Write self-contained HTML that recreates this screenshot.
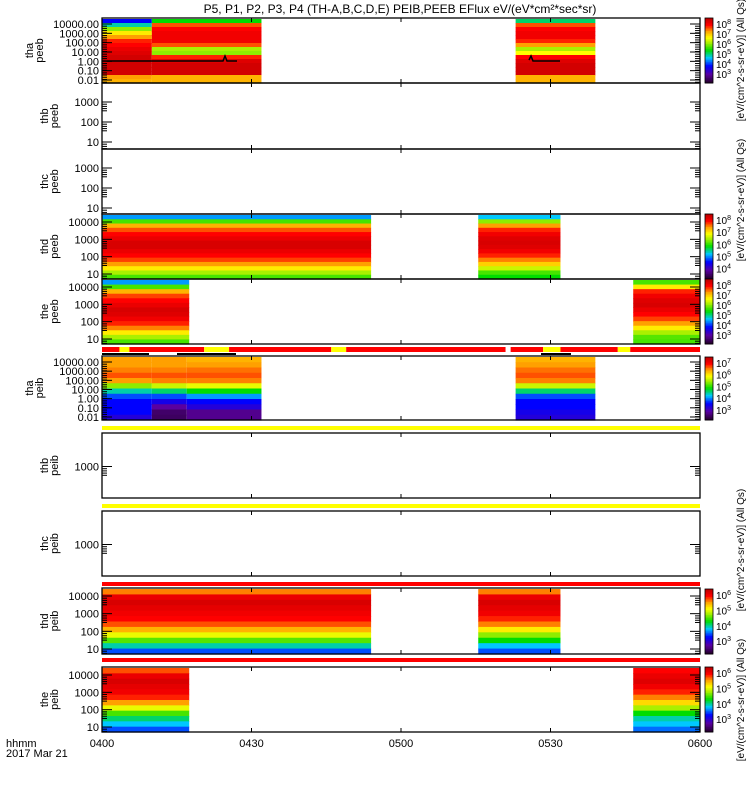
<!DOCTYPE html>
<html><head><meta charset="utf-8"><style>
html,body{margin:0;padding:0;background:#fff;}
svg{display:block;font-family:"Liberation Sans",sans-serif;}
</style></head><body>
<svg id="chart" width="750" height="800" viewBox="0 0 750 800" xmlns="http://www.w3.org/2000/svg">
<text x="400" y="13" font-size="12" text-anchor="middle">P5, P1, P2, P3, P4 (TH-A,B,C,D,E) PEIB,PEEB EFlux eV/(eV*cm²*sec*sr)</text>
<g id="layer"></g>
<text x="6" y="747" font-size="11">hhmm</text>
<text x="6" y="757" font-size="11">2017 Mar 21</text>
</svg>
<script>
// time axis: minutes after 0400
const xTickLabels = ["0400","0430","0500","0530","0600"];
const xTickMinutes = [0,30,60,90,120];
// panels: name, species label, y-tick labels
const panelNames = ["tha-peeb","thb-peeb","thc-peeb","thd-peeb","the-peeb","tha-peib","thb-peib","thc-peib","thd-peib","the-peib"];
const panelLabels = [["tha","peeb"],["thb","peeb"],["thc","peeb"],["thd","peeb"],["the","peeb"],["tha","peib"],["thb","peib"],["thc","peib"],["thd","peib"],["the","peib"]];
const yTickSets = [
 ["10000.00","1000.00","100.00","10.00","1.00","0.10","0.01"],
 ["1000","100","10"],["1000","100","10"],
 ["10000","1000","100","10"],["10000","1000","100","10"],
 ["10000.00","1000.00","100.00","10.00","1.00","0.10","0.01"],
 ["1000"],["1000"],
 ["10000","1000","100","10"],["10000","1000","100","10"]];
// spectrogram segments: panel index, start minute, end minute, normalized log-flux levels top->bottom
const segPanel = [0,0,0,3,3,4,4,5,5,5,5,8,8,9,9];
const segStart = [0,10,83,0,75.5,0,106.6,0,10,17,83,0,75.5,0,106.6];
const segEnd   = [10,32,99,54,92,17.5,120,10,17,32,99,54,92,17.5,120];
const segLevels = [
 [0.25,0.42,0.6,0.72,0.8,0.88,0.9,0.93,0.95,0.97,0.97,0.97,0.97,0.97,0.8,0.78],
 [0.5,0.85,0.9,0.92,0.92,0.92,0.85,0.62,0.6,0.88,0.95,0.97,0.97,0.97,0.78,0.78],
 [0.45,0.85,0.9,0.92,0.92,0.88,0.8,0.62,0.7,0.9,0.95,0.97,0.97,0.97,0.78,0.78],
 [0.35,0.55,0.78,0.85,0.9,0.93,0.96,0.96,0.93,0.9,0.86,0.8,0.72,0.62,0.55],
 [0.38,0.6,0.8,0.88,0.92,0.95,0.96,0.95,0.92,0.88,0.82,0.75,0.65,0.55,0.5],
 [0.35,0.55,0.78,0.86,0.9,0.93,0.96,0.95,0.92,0.88,0.82,0.72,0.62,0.55],
 [0.55,0.72,0.88,0.92,0.95,0.96,0.93,0.9,0.86,0.8,0.72,0.62,0.56,0.55],
 [0.8,0.8,0.82,0.85,0.8,0.6,0.42,0.3,0.25,0.25,0.25,0.2],
 [0.8,0.8,0.82,0.85,0.82,0.65,0.45,0.3,0.22,0.12,0.06,0.05],
 [0.78,0.8,0.83,0.85,0.82,0.68,0.5,0.35,0.25,0.2,0.1,0.1],
 [0.78,0.8,0.83,0.85,0.82,0.65,0.45,0.3,0.25,0.25,0.22,0.2],
 [0.82,0.93,0.96,0.94,0.92,0.9,0.85,0.78,0.68,0.56,0.42,0.3],
 [0.82,0.93,0.96,0.94,0.92,0.88,0.82,0.72,0.6,0.5,0.38,0.3],
 [0.85,0.93,0.96,0.94,0.92,0.88,0.8,0.68,0.55,0.45,0.38,0.3],
 [0.9,0.93,0.95,0.92,0.88,0.82,0.74,0.62,0.5,0.42,0.38,0.32]];
// status bars: segments start/end minutes, color
const barStart = [0,3.5,5.5,20.5,25.5,46,49,81,82,88.5,92,103.5,106];
const barEnd   = [3.5,5.5,20.5,25.5,46,49,81,82,88.5,92,103.5,106,120];
const barColor = ["r","y","r","y","r","y","r","w","r","y","r","y","r"];

const NS="http://www.w3.org/2000/svg";
const L=document.getElementById('layer');
const X0=102,X1=700;
function xs(m){return X0+(X1-X0)*m/120;}
const pTop=[18,83,149,214,279,356,433,511,588,667];
const pBot=[83,149,214,279,344,420,498,576,654,732];
function el(t,a,p){const e=document.createElementNS(NS,t);for(const k in a)e.setAttribute(k,a[k]);(p||L).appendChild(e);return e;}
const stops=[[0,[40,0,50]],[0.12,[90,0,160]],[0.25,[0,0,255]],[0.38,[0,200,255]],[0.5,[0,220,0]],[0.62,[170,240,0]],[0.7,[255,255,0]],[0.8,[255,160,0]],[0.9,[255,0,0]],[1,[190,0,0]]];
function cmap(v){v=Math.max(0,Math.min(1,v));for(let i=1;i<stops.length;i++){if(v<=stops[i][0]){const a=stops[i-1],b=stops[i],f=(v-a[0])/(b[0]-a[0]);const c=a[1].map((q,j)=>Math.round(q+(b[1][j]-q)*f));return `rgb(${c})`;}}return 'rgb(190,0,0)';}

for(let s=0;s<segPanel.length;s++){
  const p=segPanel[s],lv=segLevels[s],t=pTop[p]+1,h=(pBot[p]-t)/lv.length;
  const g=el('g',{});
  
  
  lv.forEach((v,i)=>{const r=el('rect',{x:xs(segStart[s]),y:t+i*h,width:xs(segEnd[s])-xs(segStart[s]),height:h+0.6,fill:cmap(v)},g);
    
    });
}
el('polyline',{points:"107,61 223,61 225,56 227,61 237,61",stroke:"#000","stroke-width":1.5,fill:"none"});
el('polyline',{points:"529,60 531,56 533,61 560,61",stroke:"#000","stroke-width":1.5,fill:"none"});

for(let p=0;p<10;p++){
  const g=el('g',{});
  
  
  el('rect',{x:X0,y:pTop[p],width:X1-X0,height:pBot[p]-pTop[p],fill:"none",stroke:"#000","stroke-width":1.3},g);
  xTickMinutes.forEach(m=>{el('line',{x1:xs(m),x2:xs(m),y1:pBot[p],y2:pBot[p]-4,stroke:"#000"},g);el('line',{x1:xs(m),x2:xs(m),y1:pTop[p],y2:pTop[p]+4,stroke:"#000"},g);});
  const yt=yTickSets[p],n=yt.length,top=pTop[p],bot=pBot[p];
  yt.forEach((lab,i)=>{
    let y;
    if(n==1) y=(top+bot)/2+1;
    else if(n==7) y=top+6+i*(bot-top-9)/6;
    else if(n==4) y=top+8+i*(bot-top-13)/3;
    else y=top+19+i*20;
    const tx=el('text',{x:X0-3,y:y+4,"font-size":11,"text-anchor":"end"},g);
    tx.textContent=lab;
    
    
    el('line',{x1:X0,x2:X0+10,y1:y,y2:y,stroke:"#000"},g);
    el('line',{x1:X1,x2:X1-10,y1:y,y2:y,stroke:"#000"},g);
    for(let k=1;k<5;k++){const yy=y+k*2.2;if(yy<bot){el('line',{x1:X0,x2:X0+5,y1:yy,y2:yy,stroke:"#000"},g);el('line',{x1:X1,x2:X1-5,y1:yy,y2:yy,stroke:"#000"},g);}}
  });
  const cy=(top+bot)/2;
  const lt=el('text',{transform:`translate(${n==7?33:48},${cy}) rotate(-90)`,"font-size":11,"text-anchor":"middle"},g);
  lt.textContent=panelLabels[p][0];
  
  
  const lt2=el('text',{transform:`translate(${n==7?43:58},${cy}) rotate(-90)`,"font-size":11,"text-anchor":"middle"},g);
  lt2.textContent=panelLabels[p][1];
  
  
}
xTickLabels.forEach((lab,i)=>{const t=el('text',{x:xs(xTickMinutes[i]),y:747,"font-size":11,"text-anchor":"middle"});t.textContent=lab;
  
  });
const cmapBar={r:"#ff0000",y:"#ffff00",w:"#ffffff"};
for(let i=0;i<barStart.length;i++){const r=el('rect',{x:xs(barStart[i]),y:347,width:xs(barEnd[i])-xs(barStart[i]),height:5,fill:cmapBar[barColor[i]]});
  
  }
[[426,"#ffff00"],[504,"#ffff00"],[582,"#ff0000"],[658,"#ff0000"]].forEach(b=>{const r=el('rect',{x:X0,y:b[0],width:X1-X0,height:4,fill:b[1]});
  
  });
el('rect',{x:X0,y:353,width:47,height:2,fill:"#000"});el('rect',{x:177,y:353,width:59,height:2,fill:"#000"});el('rect',{x:541,y:353,width:30,height:2,fill:"#000"});
const cbTop=[18,214,279,357,589,667];
const cbBot=[83,279,344,420,654,732];
const cbLabels=[["8","7","6","5","4","3"],["8","7","6","5","4"],["8","7","6","5","4","3"],["7","6","5","4","3"],["6","5","4","3"],["6","5","4","3"]];
for(let c=0;c<cbTop.length;c++){
  const g=el('g',{});
  
  
  const N=40,h=(cbBot[c]-cbTop[c])/N;
  for(let i=0;i<N;i++)el('rect',{x:705,y:cbTop[c]+i*h,width:8,height:h+0.5,fill:cmap(1-i/(N-1))},g);
  el('rect',{x:705,y:cbTop[c],width:8,height:cbBot[c]-cbTop[c],fill:"none",stroke:"#000","stroke-width":0.8},g);
  const labs=cbLabels[c],sp=(cbBot[c]-cbTop[c]-8)/(labs.length-0.3);
  labs.forEach((e,i)=>{const t=el('text',{x:716,y:cbTop[c]+10+i*sp,"font-size":10},g);t.innerHTML=`10<tspan dy="-4" font-size="7">${e}</tspan>`;
    
    });
}
[[744,60,"[eV/(cm^2-s-sr-eV)] (All Qs)"],[744,200,"[eV/(cm^2-s-sr-eV)] (All Qs)"],[744,550,"[eV/(cm^2-s-sr-eV)] (All Qs)"],[744,700,"[eV/(cm^2-s-sr-eV)] (All Qs)"]].forEach(a=>{
  const t=el('text',{transform:`translate(${a[0]},${a[1]}) rotate(-90)`,"font-size":10,"text-anchor":"middle"});t.textContent=a[2];
  
  });
</script>
</body></html>
